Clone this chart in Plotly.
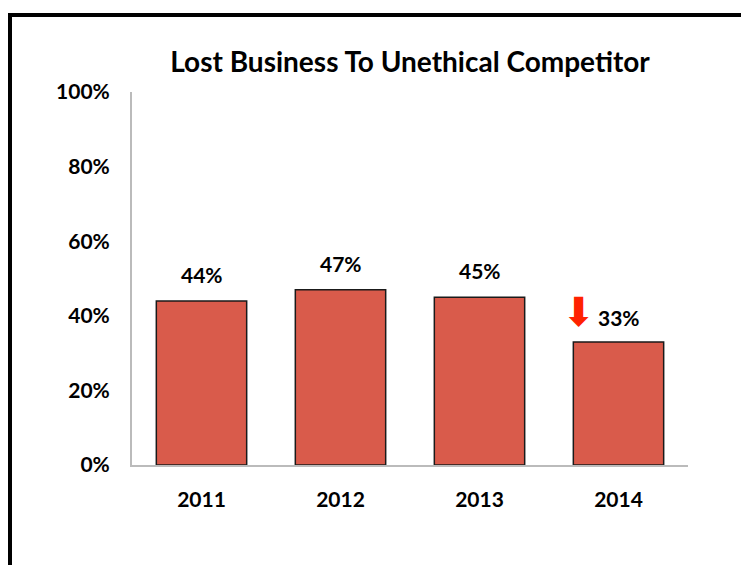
import plotly.graph_objects as go

years = ["2011", "2012", "2013", "2014"]
values = [44, 47, 45, 33]
labels = ["44%", "47%", "45%", "33%"]
tick_vals = [0, 20, 40, 60, 80, 100]
tick_text = ["0%", "20%", "40%", "60%", "80%", "100%"]

FONT = "Lato"
W, H = 741, 565
L, R, T, B = 132, 53, 92, 100
pw, ph = W - L - R, H - T - B

fig = go.Figure()
fig.add_trace(go.Bar(
    x=years, y=values,
    marker=dict(color="#D95B4B", line=dict(color="#1a1a1a", width=1.5)),
    width=0.65,
    hoverinfo="skip",
))

annotations = []
for i, (yr, v, lab) in enumerate(zip(years, values, labels)):
    if i == len(years) - 1:
        annotations.append(dict(x=i, y=v, text=lab, showarrow=False,
                                xanchor="left", yanchor="bottom", xshift=-23, yshift=10,
                                font=dict(family=FONT, size=21, color="black", weight="bold")))
        annotations.append(dict(x=i, y=v, text="⬇", showarrow=False,
                                xanchor="right", yanchor="bottom", xshift=-21, yshift=5,
                                font=dict(family="DejaVu Sans", size=40, color="#FF2200")))
    else:
        annotations.append(dict(x=i, y=v, text=lab, showarrow=False,
                                yanchor="bottom", yshift=12,
                                font=dict(family=FONT, size=21, color="black", weight="bold")))

fx = (10 - L) / pw
fy = (H - B - 15) / ph
shapes = [dict(type="path", xref="paper", yref="paper",
               path=f"M {fx},-1 L {fx},{fy} L 2,{fy}",
               line=dict(color="black", width=4))]

fig.update_layout(
    width=W, height=H,
    margin=dict(l=L, r=R, t=T, b=B),
    paper_bgcolor="white", plot_bgcolor="white",
    showlegend=False,
    bargap=0.35,
    title=dict(text="Lost Business To Unethical Competitor", x=410 / W, xanchor="center",
               y=1 - 62 / H, yanchor="middle",
               font=dict(family=FONT, size=28, color="black", weight="bold")),
    xaxis=dict(type="category", range=[-0.5, len(years) - 0.5], showline=True,
               linecolor="#BBBBBB", linewidth=2, ticks="", showgrid=False,
               tickfont=dict(family=FONT, size=21, color="black", weight="bold"),
               ticklabelstandoff=15),
    yaxis=dict(range=[0, 100], tickvals=tick_vals, ticktext=tick_text, showline=True,
               linecolor="#BBBBBB", linewidth=2, ticks="", showgrid=False, zeroline=False,
               tickfont=dict(family=FONT, size=21, color="black", weight="bold"),
               ticklabelstandoff=16),
    annotations=annotations,
    shapes=shapes,
)

fig.write_html("out.html")
